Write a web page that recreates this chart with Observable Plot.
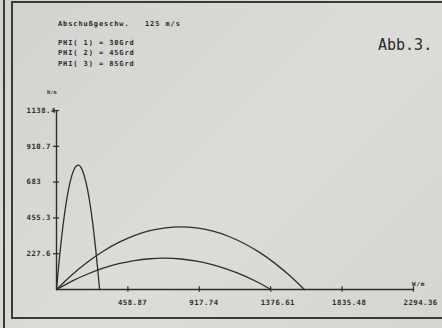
<!DOCTYPE html>
<html><head><meta charset="utf-8">
<script src="https://cdn.jsdelivr.net/npm/d3@7"></script>
<script src="https://cdn.jsdelivr.net/npm/@observablehq/plot@0.6"></script>
<style>
html,body{margin:0;padding:0;background:#d7d7d3;}
#page{position:relative;width:442px;height:328px;overflow:hidden;background:linear-gradient(135deg,#d2d2ce 0%,#dcdcd8 55%,#d5d5d1 100%);font-family:"DejaVu Sans Mono",monospace;color:#2a2a2a;font-weight:bold;}
#page svg{position:absolute;left:0;top:0;}
.t{position:absolute;white-space:pre;font-size:7px;letter-spacing:0.9px;line-height:1;}
.ln{position:absolute;background:#3a3a3a;}
</style></head><body><div id="page">
<div class="ln" style="left:3px;top:0;width:1.5px;height:328px"></div>
<div class="ln" style="left:11px;top:2px;width:1.5px;height:316px"></div>
<div class="ln" style="left:11px;top:1px;width:431px;height:1.5px"></div>
<div class="ln" style="left:11px;top:317px;width:431px;height:2px"></div>
<div class="t" style="left:58px;top:21px">Abschußgeschw.   125 m/s</div>
<div class="t" style="left:58px;top:40px">PHI( 1) = 30Grd</div>
<div class="t" style="left:58px;top:50px">PHI( 2) = 45Grd</div>
<div class="t" style="left:58px;top:61px">PHI( 3) = 85Grd</div>
<div class="t" style="left:378px;top:38px;font-size:15px;letter-spacing:0;font-weight:normal">Abb.3.</div>
<div class="t" style="left:47px;top:90px;font-size:5px;letter-spacing:0.3px">H/m</div>
<div class="t" style="left:412px;top:281px;font-size:6px;letter-spacing:0.8px">W/m</div>
<div id="chart"></div>
</div>
<script>
// Trajectories (distance W in m, height H in m)
const angles = ["30", "45", "85"];
const w30 = [0, 100, 200, 300, 400, 500, 600, 700, 800, 900, 1000, 1100, 1200, 1300, 1379];
const h30 = [0, 53.6, 98.7, 135.5, 164.0, 184.1, 195.7, 199.1, 194.0, 180.6, 158.8, 128.7, 90.1, 43.2, 0];
const w45 = [0, 100, 200, 300, 400, 500, 600, 700, 800, 900, 1000, 1100, 1200, 1300, 1400, 1500, 1593];
const h45 = [0, 93.7, 174.9, 243.5, 299.5, 343.0, 374.0, 392.4, 398.2, 391.4, 372.2, 340.3, 295.9, 239.0, 169.4, 87.4, 0];
const w85 = [0, 10, 20, 35, 50, 70, 90, 110, 138, 165, 190, 210, 230, 250, 265, 277];
const h85 = [0, 110.2, 212.1, 349.5, 468.2, 597.6, 694.0, 757.3, 790.3, 761.0, 679.8, 577.8, 442.8, 274.6, 127.0, 0];

const xTicks = [458.87, 917.74, 1376.61, 1835.48, 2294.36];
const xTickLabels = ["458.87", "917.74", "1376.61", "1835.48", "2294.36"];
const yTicks = [227.68, 455.36, 683.04, 910.72, 1138.4];
const yTickLabels = ["227.6", "455.3", "683", "910.7", "1138.4"];

const series = [[w30, h30], [w45, h45], [w85, h85]];
const traj = series.flatMap(([w, h], k) => w.map((x, i) => ({angle: angles[k], x, y: h[i]})));
const xLab = new Map(xTicks.map((d, i) => [d, xTickLabels[i]]));
const yLab = new Map(yTicks.map((d, i) => [d, yTickLabels[i]]));
const ink = "#2e2e2e";

const chart = Plot.plot({
  width: 442, height: 328,
  marginLeft: 56, marginRight: 29, marginTop: 110, marginBottom: 39,
  x: {domain: [0, 2294.36]},
  y: {domain: [0, 1138.4]},
  style: {background: "transparent", fontFamily: "DejaVu Sans Mono", fontSize: "7.3px", fontWeight: "bold", color: ink, letterSpacing: "0.5px", overflow: "visible"},
  marks: [
    Plot.ruleY([0], {stroke: ink, strokeWidth: 1.4}),
    Plot.ruleX([0], {stroke: ink, strokeWidth: 1.4}),
    Plot.ruleX(xTicks, {y1: -17, y2: 17, stroke: ink, strokeWidth: 1.2}),
    Plot.ruleY(yTicks, {x1: -20, x2: 20, stroke: ink, strokeWidth: 1.2}),
    Plot.axisX({ticks: xTicks, tickFormat: d => xLab.get(d), tickSize: 0, tickPadding: 10, textAnchor: "start", dx: -10, label: null, fill: ink}),
    Plot.axisY({ticks: yTicks, tickFormat: d => yLab.get(d), tickSize: 0, tickPadding: 30, textAnchor: "start", label: null, fill: ink}),
    Plot.line(traj, {x: "x", y: "y", z: "angle", curve: "natural", stroke: ink, strokeWidth: 1.3})
  ]
});
document.getElementById("chart").appendChild(chart);
</script>
</body></html>
